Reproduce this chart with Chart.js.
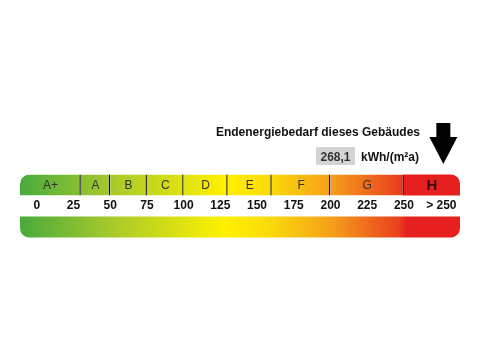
<!DOCTYPE html>
<html><head><meta charset="utf-8">
<script src="https://cdn.jsdelivr.net/npm/chart.js@4/dist/chart.umd.min.js"></script>
<style>html,body{margin:0;padding:0;background:#fff}</style>
</head><body>
<canvas id="chart" width="480" height="360"></canvas>
<script>
// Energieklassen (kWh/(m²a))
const classNames=["A+","A","B","C","D","E","F","G","H"];
const classStarts=[-11.4,30,50,75,100,130,160,200,250];
const classEnds=[30,50,75,100,130,160,200,250,288.2];
const tickValues=[0,25,50,75,100,125,150,175,200,225,250,275.5];
const tickLabels=["0","25","50","75","100","125","150","175","200","225","250","> 250"];
const demand=268.1;
const demandText="268,1";
const unitText="kWh/(m²a)";
const titleText="Endenergiebedarf dieses Gebäudes";
const scaleMin=-11.4, scaleMax=288.2;

let grad=null;
function bandGradient(ctx){
const chart=ctx.chart,area=chart.chartArea;
if(!area) return "#fff200";
if(grad) return grad;
const x=chart.scales.x;
grad=chart.ctx.createLinearGradient(area.left,0,area.right,0);
const w=area.right-area.left;
const stops=[[scaleMin,"#48ab3c"],[50,"#a6c92b"],[128,"#fff100"],[160,"#fbd80a"],[200,"#f5a019"],[247,"#ea3f1f"],[252,"#e6201f"],[scaleMax,"#e6201f"]];
stops.forEach(s=>grad.addColorStop(Math.min(1,Math.max(0,(x.getPixelForValue(s[0])-area.left)/w)),s[1]));
return grad;
}

let datasets=classNames.map((n,i)=>({
label:n,
data:[[classStarts[i],classEnds[i]],null],
backgroundColor:n==="H"?"#e6201f":bandGradient,
borderColor:"#000",
borderWidth:n==="H"?0:{left:0,top:0,bottom:0,right:1.4},
borderSkipped:false,
borderRadius:n==="A+"?{topLeft:9,topRight:0,bottomLeft:0,bottomRight:0}:(n==="H"?{topLeft:0,topRight:9,bottomLeft:0,bottomRight:0}:0),
grouped:false,
barPercentage:0.5,
categoryPercentage:1
}));
datasets.push({
label:"Skala",
data:[null,[scaleMin,scaleMax]],
backgroundColor:bandGradient,
borderWidth:0,
borderSkipped:false,
borderRadius:{topLeft:0,topRight:0,bottomLeft:9,bottomRight:9},
grouped:false,
barPercentage:0.5,
categoryPercentage:1
});

const labelsPlugin={id:"labels",afterDatasetsDraw(chart){
const c=chart.ctx,x=chart.scales.x,y=chart.scales.y;
const yTop=y.getPixelForValue(0),yBot=y.getPixelForValue(1),yMid=(yTop+yBot)/2;
c.save();
c.textAlign="center";c.textBaseline="middle";
classNames.forEach((n,i)=>{
const cx=(x.getPixelForValue(Math.max(classStarts[i],scaleMin))+x.getPixelForValue(Math.min(classEnds[i],scaleMax)))/2;
c.font=n==="H"?"bold 15px Arial":"12px Arial";
c.fillStyle=n==="H"?"#3a0a0a":"#333";
c.fillText(n,cx,yTop+1);
});
c.font="bold 12px Arial";c.fillStyle="#111";
tickValues.forEach((v,i)=>c.fillText(tickLabels[i],x.getPixelForValue(v),yMid));

// Pfeil
const pos=demand>250?tickValues[tickValues.length-1]:demand;
const ax=x.getPixelForValue(pos)+2;
const tip=yTop-21;
c.fillStyle="#000";
c.beginPath();
c.moveTo(ax-7,tip-41);c.lineTo(ax+7,tip-41);c.lineTo(ax+7,tip-27);
c.lineTo(ax+14,tip-27);c.lineTo(ax,tip);c.lineTo(ax-14,tip-27);c.lineTo(ax-7,tip-27);
c.closePath();c.fill();

// Titel und Wert
c.textAlign="right";c.textBaseline="alphabetic";
c.font="bold 12px Arial";c.fillStyle="#111";
c.fillText(titleText,420,136);
c.fillText(unitText,419,160.5);
c.fillStyle="#d4d4d4";
c.fillRect(316,147,39,18);
c.fillStyle="#333";c.textAlign="center";
c.fillText(demandText,335.5,160.5);
c.restore();
}};

new Chart(document.getElementById("chart"),{
type:"bar",
data:{labels:["Klasse","Skala"],datasets:datasets},
options:{
indexAxis:"y",
responsive:false,
animation:false,
layout:{padding:{left:20,right:20,top:164,bottom:112}},
plugins:{legend:{display:false},tooltip:{enabled:false}},
scales:{
x:{type:"linear",min:scaleMin,max:scaleMax,display:false},
y:{display:false}
}
},
plugins:[labelsPlugin]
});
</script>
</body></html>
